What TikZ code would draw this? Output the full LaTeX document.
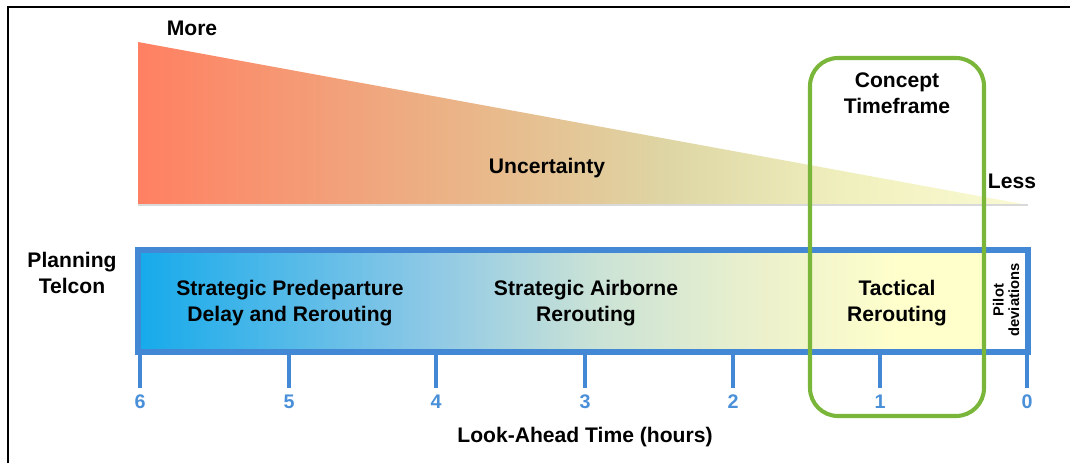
\documentclass[tikz,border=0pt]{standalone}
\usepackage{fontspec}
\setmainfont{Liberation Sans}

\definecolor{barblue}{RGB}{66,136,212}
\definecolor{tickblue}{RGB}{74,144,217}
\definecolor{framegreen}{RGB}{122,182,58}
% uncertainty wedge colours
\definecolor{uA}{RGB}{255,128,98}
\definecolor{uB}{RGB}{232,186,140}
\definecolor{uC}{RGB}{222,214,165}
\definecolor{uD}{RGB}{240,240,190}
\definecolor{uE}{RGB}{250,250,212}
% planning bar colours
\definecolor{bA}{RGB}{22,170,235}
\definecolor{bB}{RGB}{140,200,230}
\definecolor{bC}{RGB}{202,226,214}
\definecolor{bD}{RGB}{236,241,204}
\definecolor{bE}{RGB}{255,255,204}

\pgfdeclarehorizontalshading{uncertshade}{100bp}{%
  color(0bp)=(uA); color(25bp)=(uA); color(45bp)=(uB);
  color(55bp)=(uC); color(65bp)=(uD); color(75bp)=(uE); color(100bp)=(uE)}
\pgfdeclarehorizontalshading{barshade}{100bp}{%
  color(0bp)=(bA); color(25bp)=(bA); color(42bp)=(bB);
  color(52bp)=(bC); color(62bp)=(bD); color(70bp)=(bE); color(100bp)=(bE)}

\begin{document}
\begin{tikzpicture}[x=0.025cm,y=-0.025cm,
    lbl/.style={font=\fontsize{15}{18.5}\selectfont\bfseries, align=center, inner sep=1pt},
    ticklbl/.style={font=\fontsize{14}{16}\selectfont\bfseries, text=tickblue},
    leg/.style={barblue, line width=2.8pt}]
                \useasboundingbox (0,0) rectangle (1070,463);

                % frame
                \draw[line width=2.1pt] (8,463) -- (8,7) -- (1070,7);

                % uncertainty wedge
                \shade[shading=uncertshade] (138,42) -- (1028,205) -- (138,205) -- cycle;
                \draw[black!15, line width=1pt] (138,205) -- (1028,205);
                \node[lbl] (more) at (192,28) {More};
                \node[lbl] (less) at (1012,181) {Less};
                \node[lbl] (uncert) at (547,168) {Uncertainty};

                % planning bar
                \shade[shading=barshade] (138,250) rectangle (984,352);
                \fill[white] (984,250) rectangle (1028,352);
                \draw[barblue, line width=3.6pt] (138,250) rectangle (1028,352);
                \draw[barblue, line width=2.8pt] (984,250) -- (984,352);

                % legs and hours
                \foreach \x/\h in {140/6, 289/5, 436/4, 585/3, 733/2, 880/1, 1027/0}
                    \draw[leg] (\x,352) -- (\x,388) node[below, ticklbl] (t\h) {\h};
                \node[lbl] (axis) at (585,437) {Look-Ahead Time (hours)};

                \node[lbl] (plan) at (72,273) {Planning\\Telcon};
                \node[lbl] (predep) at (290,303) {Strategic Predeparture\\Delay and Rerouting};
                \node[lbl] (airborne) at (586,303) {Strategic Airborne\\Rerouting};
                \node[lbl] (tactical) at (897,303) {Tactical\\Rerouting};
                \node[rotate=90, align=center, inner sep=0pt,
                      font=\fontsize{10.5}{11}\selectfont\bfseries] (pilot) at (1006,300) {Pilot\\deviations};

                % concept timeframe
                \draw[framegreen, line width=2.9pt, rounded corners=0.7cm] (810,58) rectangle (984,416);
                \node[lbl] (concept) at (897,93) {Concept\\Timeframe};
\end{tikzpicture}
\end{document}
